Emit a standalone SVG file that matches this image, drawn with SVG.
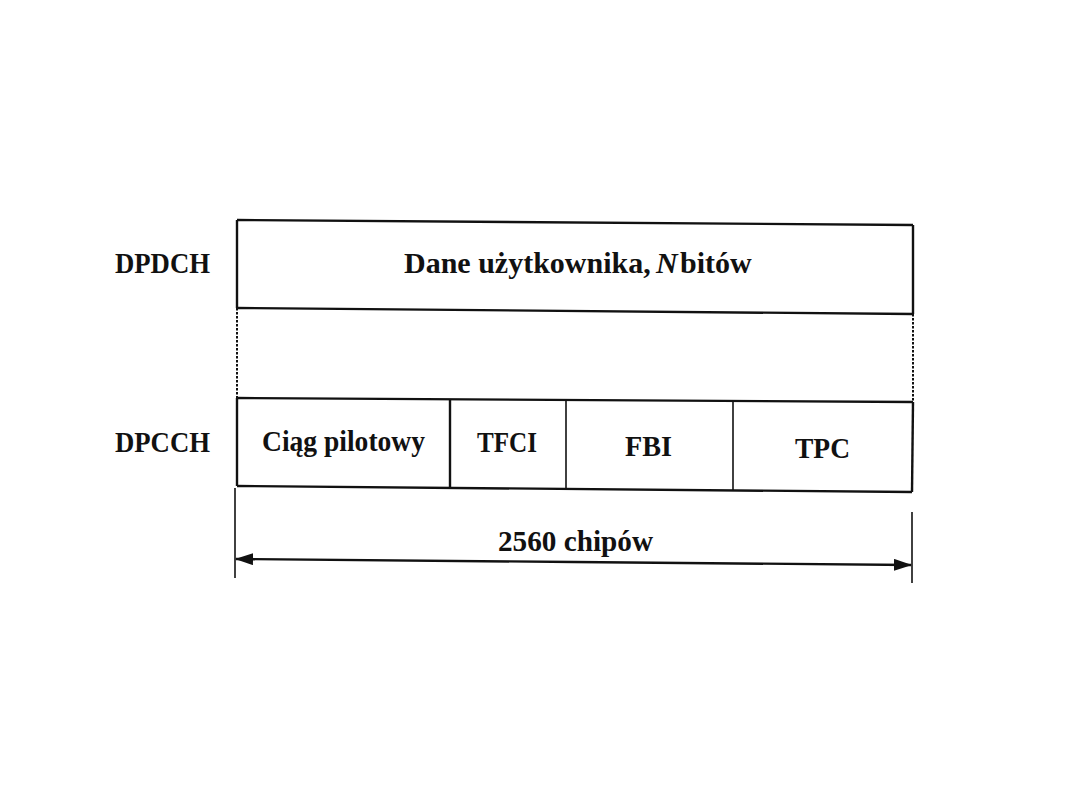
<svg xmlns="http://www.w3.org/2000/svg" width="1080" height="810" viewBox="0 0 1080 810">
<defs>
<style>
.t{font-family:"Liberation Serif","Times New Roman",serif;font-weight:bold;font-size:30px;fill:#111;}
.ln{stroke:#111;stroke-width:2.4;fill:none;}
.thin{stroke:#111;stroke-width:1.6;fill:none;}
.dot{stroke:#111;stroke-width:2;fill:none;stroke-dasharray:2.5 1.5;}
</style>
<marker id="ah" markerWidth="18" markerHeight="12" refX="17" refY="6" orient="auto" markerUnits="userSpaceOnUse">
<path d="M0,0 L18,6 L0,12 Z" fill="#111"/>
</marker>
</defs>
<rect width="1080" height="810" fill="#fff"/>
<text class="t" x="115" y="273" font-size="31" textLength="95" lengthAdjust="spacingAndGlyphs">DPDCH</text>
<text class="t" x="115" y="452" font-size="31" textLength="95" lengthAdjust="spacingAndGlyphs">DPCCH</text>
<g id="dpdch">
<line class="ln" x1="237" y1="220" x2="913" y2="225"/>
<line class="ln" x1="237" y1="308" x2="913" y2="314"/>
<line class="ln" x1="237" y1="220" x2="237" y2="308"/>
<line class="ln" x1="913" y1="225" x2="913" y2="314"/>
<text class="t" x="404" y="273" font-size="26">Dane użytkownika,</text>
<text class="t" x="656" y="273" font-size="26" font-style="italic">N</text>
<text class="t" x="680" y="273" font-size="26">bitów</text>
</g>
<g id="gap">
<line class="dot" x1="237" y1="308" x2="237" y2="398"/>
<line class="dot" x1="913" y1="314" x2="913" y2="402"/>
</g>
<g id="dpcch">
<line class="ln" x1="237" y1="398" x2="913" y2="402"/>
<line class="ln" x1="237" y1="486" x2="912" y2="492"/>
<line class="ln" x1="237" y1="398" x2="237" y2="486"/>
<line class="ln" x1="913" y1="402" x2="912" y2="492"/>
</g>
<g id="pilot">
<line class="ln" x1="450" y1="399" x2="450" y2="488"/>
<text class="t" x="262" y="451" textLength="163" lengthAdjust="spacingAndGlyphs">Ciąg pilotowy</text>
</g>
<g id="tfci">
<line class="thin" x1="566" y1="400" x2="566" y2="489"/>
<text class="t" x="477" y="452" textLength="60" lengthAdjust="spacingAndGlyphs">TFCI</text>
</g>
<g id="fbi">
<line class="thin" x1="733" y1="401" x2="733" y2="490"/>
<text class="t" x="625" y="456" textLength="47" lengthAdjust="spacingAndGlyphs">FBI</text>
</g>
<g id="tpc">
<text class="t" x="795" y="458" textLength="55" lengthAdjust="spacingAndGlyphs">TPC</text>
</g>
<g id="connectors">
<line class="thin" x1="235" y1="488" x2="235" y2="578"/>
<line class="thin" x1="912" y1="512" x2="912" y2="583"/>
<line class="ln" x1="574" y1="562" x2="236" y2="559" marker-end="url(#ah)"/>
<line class="ln" x1="574" y1="562" x2="911" y2="565" marker-end="url(#ah)"/>
</g>
<text class="t" x="498" y="551" textLength="155" lengthAdjust="spacingAndGlyphs">2560 chipów</text>
</svg>
